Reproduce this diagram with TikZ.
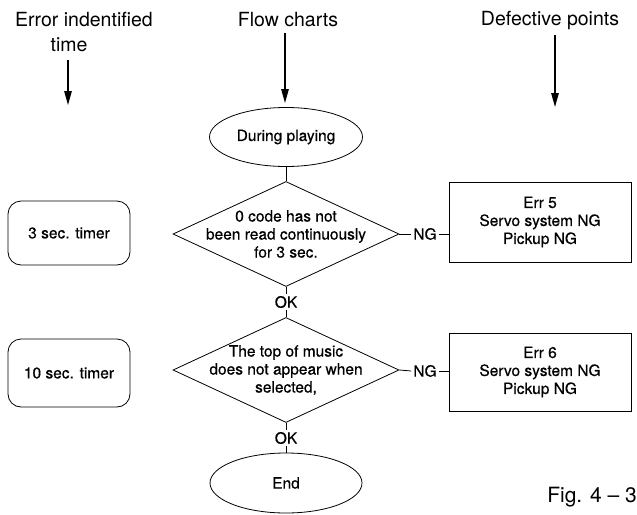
\documentclass[tikz,border=0pt]{standalone}
\usepackage{fontspec}
\setmainfont{TeX Gyre Heros}
\newfontfamily\scanfont{TeX Gyre Heros}[FakeBold=0.5]
\usetikzlibrary{shapes.geometric,arrows.meta}
\begin{document}
\begin{tikzpicture}[x=1pt,y=-1pt,
  every node/.style={font=\scanfont\fontsize{15.5}{18}\selectfont, inner sep=0pt},
  hdr/.style={font=\rmfamily\fontsize{19.5}{22}\selectfont},
  ln/.style={line width=0.8pt},
  harrow/.style={line width=1.2pt, -{Triangle[length=14pt,width=7.5pt]}},
  ell/.style={draw, ellipse, ln, minimum width=153pt, minimum height=59pt},
  dia/.style={draw, diamond, ln, minimum width=226pt, minimum height=105pt},
  errbox/.style={draw, rectangle, ln, align=center, minimum width=182pt, minimum height=80pt},
  timerbox/.style={draw, rectangle, ln, rounded corners=13pt, minimum width=122pt, minimum height=64pt},
  lbl/.style={inner sep=2pt},
]
\fill[white] (0,0) rectangle (637,514);
\useasboundingbox (0,0) rectangle (637,514);

% headers
\node[hdr] (h1a) at (84,20) {Error indentified};
\node[hdr] (h1b) at (69,45) {time};
\node[hdr] (h2) at (288,20) {Flow charts};
\node[hdr] (h3) at (550,20) {Defective points};
\coordinate (a1s) at (68,60);  \coordinate (a1e) at (68,105);
\coordinate (a2s) at (285,33); \coordinate (a2e) at (285,103);
\coordinate (a3s) at (555,35); \coordinate (a3e) at (555,107);
\draw[harrow] (a1s) -- (a1e);
\draw[harrow] (a2s) -- (a2e);
\draw[harrow] (a3s) -- (a3e);

% flow
\node[ell] (play) at (286,137) {During playing};
\node[dia] (d1) at (286,234) {};
\node[align=center] (d1t) at (286,234) {0 code has not\\been read continuously\\for 3 sec.};
\node[lbl] (ok1) at (286,302) {OK};
\node[dia] (d2) at (286,370) {};
\node[align=center] (d2t) at (286,370) {The top of music\\does not appear when\\selected,};
\node[lbl] (ok2) at (286,438) {OK};
\node[ell, minimum height=60pt, minimum width=152pt] (end) at (286,483) {End};

\draw[ln] (play.south) -- (d1.north);
\draw[ln] (d1.south) -- (ok1.north);
\draw[ln] (ok1.south) -- (d2.north);
\draw[ln] (d2.south) -- (ok2.north);
\draw[ln] (ok2.south) -- (end.north);

% timers
\node[timerbox] (t1) at (69,233) {3 sec. timer};
\node[timerbox, minimum height=68pt] (t2) at (69,373) {10 sec. timer};

% defective boxes
\node[lbl] (ng1) at (425,234) {NG};
\node[errbox] (e5) at (540,222) {Err 5\\Servo system NG\\Pickup NG};
\node[lbl] (ng2) at (425,371) {NG};
\node[errbox, minimum height=78pt] (e6) at (540,372) {Err 6\\Servo system NG\\Pickup NG};
\draw[ln] (d1.east) -- (ng1.west);
\draw[ln] (ng1.east) -- (ng1.east -| e5.west);
\draw[ln] (d2.east) -- (ng2.west);
\draw[ln] (ng2.east) -- (ng2.east -| e6.west);

\node[font=\rmfamily\fontsize{21}{25}\selectfont] (fig) at (592,497) {Fig. 4 – 3};
\end{tikzpicture}
\end{document}
